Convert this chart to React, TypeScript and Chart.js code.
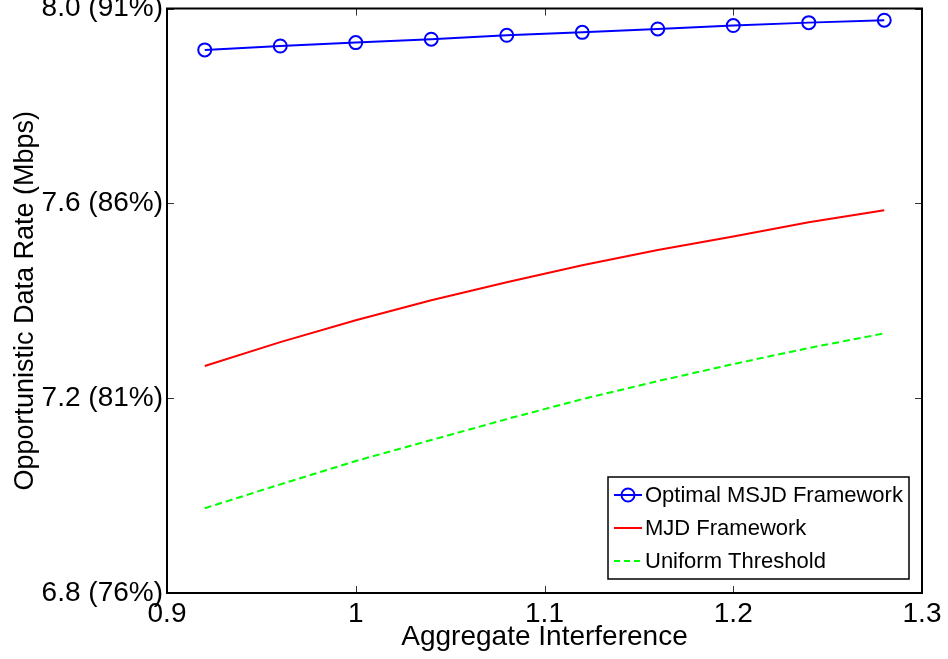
import React, { useEffect, useRef } from "react";
import { Chart, registerables } from "chart.js";

Chart.register(...registerables);

const xValues = [0.92, 0.96, 1.0, 1.04, 1.08, 1.12, 1.16, 1.2, 1.24, 1.28];
const optimalMSJD = [7.915, 7.923, 7.930, 7.937, 7.945, 7.951, 7.958, 7.965, 7.971, 7.976];
const mjdFramework = [7.266, 7.315, 7.360, 7.401, 7.438, 7.473, 7.504, 7.532, 7.561, 7.586];
const uniformThreshold = [6.974, 7.023, 7.071, 7.114, 7.157, 7.198, 7.235, 7.270, 7.303, 7.333];

const xTickValues = [0.9, 1.0, 1.1, 1.2, 1.3];
const xTickLabels = ["0.9", "1", "1.1", "1.2", "1.3"];
const yTickValues = [6.8, 7.2, 7.6, 8.0];
const yTickLabels = ["6.8 (76%)", "7.2 (81%)", "7.6 (86%)", "8.0 (91%)"];

const seriesNames = ["Optimal MSJD Framework", "MJD Framework", "Uniform Threshold"];

const FONT = "'Liberation Sans', Arial, Helvetica, sans-serif";

const framePlugin = {
  id: "frameTicks",
  afterDatasetsDraw(chart: any) {
    const { ctx, chartArea, scales } = chart;
    const { left, right, top, bottom } = chartArea;
    ctx.save();
    const tl = 7;
    ctx.strokeStyle = "#333333";
    ctx.lineWidth = 1;
    ctx.beginPath();
    xTickValues.forEach((v) => {
      const px = Math.round(scales.x.getPixelForValue(v)) + 0.5;
      ctx.moveTo(px, bottom);
      ctx.lineTo(px, bottom - tl);
      ctx.moveTo(px, top);
      ctx.lineTo(px, top + tl);
    });
    yTickValues.forEach((v) => {
      const py = Math.round(scales.y.getPixelForValue(v)) + 0.5;
      ctx.moveTo(left, py);
      ctx.lineTo(left + tl, py);
      ctx.moveTo(right, py);
      ctx.lineTo(right - tl, py);
    });
    ctx.stroke();
    ctx.strokeStyle = "#000000";
    ctx.lineWidth = 2;
    ctx.strokeRect(left, top, right - left, bottom - top);

    // legend
    const bx = right - 314;
    const by = bottom - 116;
    const bw = 301;
    const bh = 102;
    ctx.fillStyle = "#ffffff";
    ctx.fillRect(bx, by, bw, bh);
    ctx.strokeStyle = "#000000";
    ctx.lineWidth = 1.5;
    ctx.strokeRect(bx, by, bw, bh);
    const colors = ["#0000ff", "#ff0000", "#00ff00"];
    const rows = [by + 18, by + 51, by + 84];
    ctx.font = `22px ${FONT}`;
    ctx.textBaseline = "middle";
    ctx.textAlign = "left";
    seriesNames.forEach((name, i) => {
      const y = rows[i];
      ctx.strokeStyle = colors[i];
      ctx.lineWidth = 2;
      ctx.setLineDash(i === 2 ? [6, 4] : []);
      ctx.beginPath();
      ctx.moveTo(bx + 6, y);
      ctx.lineTo(bx + 34, y);
      ctx.stroke();
      ctx.setLineDash([]);
      if (i === 0) {
        ctx.beginPath();
        ctx.arc(bx + 20, y, 6.5, 0, Math.PI * 2);
        ctx.stroke();
      }
      ctx.fillStyle = "#000000";
      ctx.fillText(name, bx + 37, y + 1);
    });
    ctx.restore();
  },
};

export default function App() {
  const ref = useRef<HTMLCanvasElement>(null);
  useEffect(() => {
    if (!ref.current) return;
    const chart = new Chart(ref.current, {
      type: "line",
      data: {
        datasets: [
          {
            label: seriesNames[0],
            data: xValues.map((x, i) => ({ x, y: optimalMSJD[i] })),
            borderColor: "#0000ff",
            backgroundColor: "rgba(0,0,0,0)",
            borderWidth: 2,
            pointRadius: 6.5,
            pointBorderWidth: 2,
            pointBorderColor: "#0000ff",
            pointBackgroundColor: "rgba(0,0,0,0)",
            pointStyle: "circle",
          },
          {
            label: seriesNames[1],
            data: xValues.map((x, i) => ({ x, y: mjdFramework[i] })),
            borderColor: "#ff0000",
            borderWidth: 2,
            pointRadius: 0,
          },
          {
            label: seriesNames[2],
            data: xValues.map((x, i) => ({ x, y: uniformThreshold[i] })),
            borderColor: "#00ff00",
            borderWidth: 2,
            borderDash: [7, 4],
            pointRadius: 0,
          },
        ],
      },
      options: {
        responsive: false,
        animation: false,
        layout: { padding: { left: 0, right: 26, top: 8, bottom: 0 } },
        plugins: {
          legend: { display: false },
          tooltip: { enabled: false },
          title: { display: false },
        },
        scales: {
          x: {
            type: "linear",
            min: 0.9,
            max: 1.3,
            grid: { display: false, drawTicks: false },
            border: { display: false },
            afterBuildTicks: (scale: any) => {
              scale.ticks = xTickValues.map((v) => ({ value: v }));
            },
            afterFit: (scale: any) => {
              scale.height = 66;
              scale.paddingLeft = 0;
              scale.paddingRight = 0;
            },
            ticks: {
              autoSkip: false,
              maxRotation: 0,
              padding: 4,
              color: "#000000",
              font: { family: FONT, size: 28 },
              callback: (_v: any, i: number) => xTickLabels[i],
            },
            title: {
              display: true,
              text: "Aggregate Interference",
              color: "#000000",
              font: { family: FONT, size: 28 },
              padding: { top: 0, bottom: 5 },
            },
          },
          y: {
            type: "linear",
            min: 6.8,
            max: 8.0,
            grid: { display: false, drawTicks: false },
            border: { display: false },
            afterBuildTicks: (scale: any) => {
              scale.ticks = yTickValues.map((v) => ({ value: v }));
            },
            afterFit: (scale: any) => {
              scale.width = 167;
              scale.paddingTop = 0;
              scale.paddingBottom = 0;
            },
            ticks: {
              autoSkip: false,
              padding: 4,
              color: "#000000",
              font: { family: FONT, size: 28 },
              callback: (_v: any, i: number) => yTickLabels[i],
            },
            title: {
              display: true,
              text: "Opportunistic Data Rate (Mbps)",
              color: "#000000",
              font: { family: FONT, size: 27 },
              padding: { top: 9, bottom: 0 },
            },
          },
        },
      },
      plugins: [framePlugin],
    });
    return () => chart.destroy();
  }, []);
  return (
    <div style={{ position: "absolute", left: 0, top: 0, width: 948, height: 659, background: "#ffffff" }}>
      <canvas ref={ref} width={948} height={659} />
    </div>
  );
}
